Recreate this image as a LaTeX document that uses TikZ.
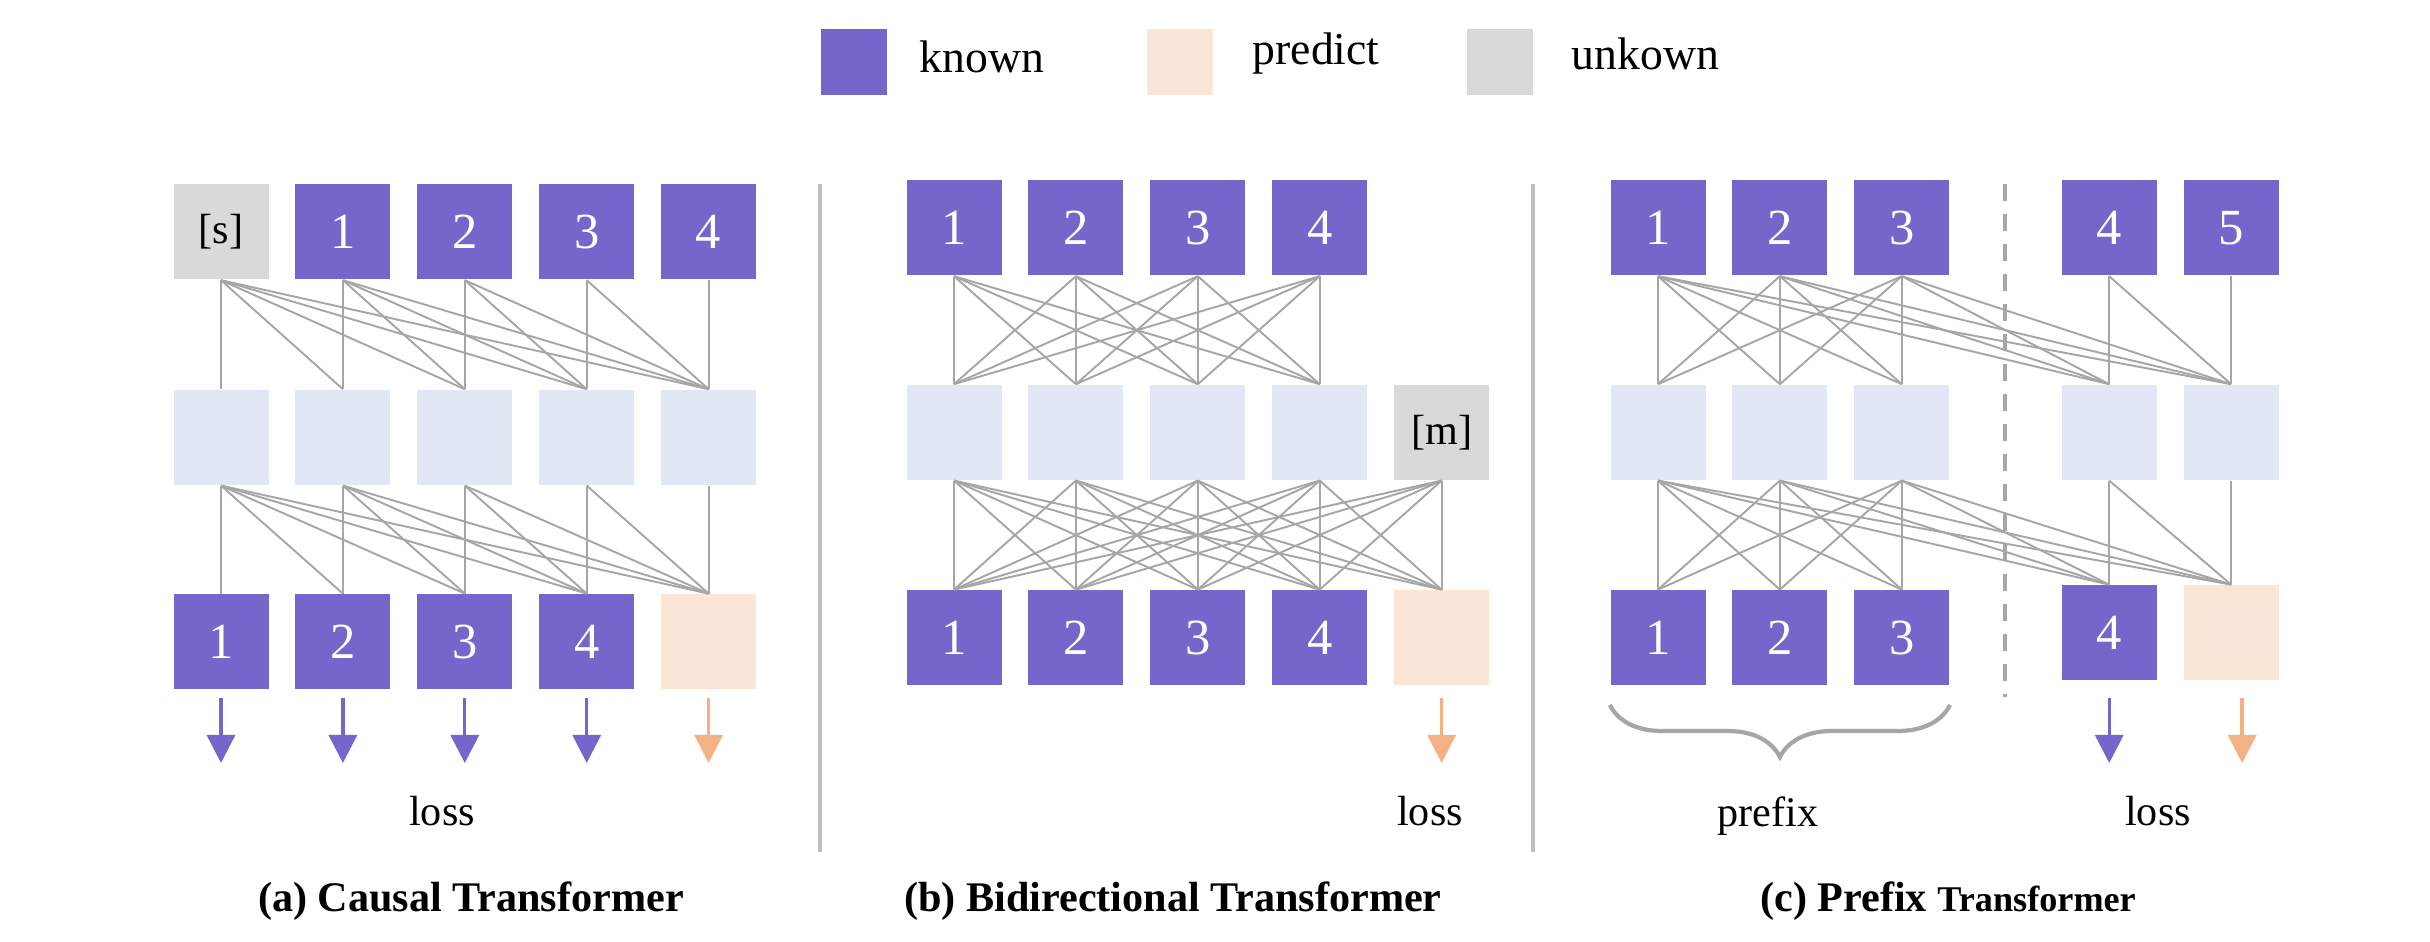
\documentclass[tikz,border=0pt]{standalone}
\usepackage{fontspec}
\setmainfont{Liberation Serif}
\usepackage{tikz}
\usetikzlibrary{positioning}
\usetikzlibrary{arrows.meta}
\usetikzlibrary{decorations.pathreplacing}

\definecolor{knownpurple}{RGB}{117,102,204}
\definecolor{predictpeach}{RGB}{251,229,214}
\definecolor{unknowngray}{RGB}{217,217,217}
\definecolor{hiddenblue}{RGB}{226,231,245}
\definecolor{edgegray}{RGB}{166,166,166}
\definecolor{rulegray}{RGB}{191,191,191}
\definecolor{lossorange}{RGB}{244,177,131}

\begin{document}
\begin{tikzpicture}[token/.style={rectangle,inner sep=0pt,minimum width=0.95cm,minimum height=0.95cm,font=\fontsize{14.4}{16}\selectfont},known/.style={token,fill=knownpurple,text=white},predict/.style={token,fill=predictpeach},unknown/.style={token,fill=unknowngray,font=\fontsize{12}{14}\selectfont},hidden/.style={token,fill=hiddenblue},keybox/.style={rectangle,inner sep=0pt,minimum size=0.66cm},keytext/.style={anchor=base west,inner sep=0pt,font=\fontsize{13}{15}\selectfont},note/.style={anchor=base,inner sep=0pt,font=\fontsize{12}{14}\selectfont},caption/.style={anchor=base,inner sep=0pt,font=\fontsize{12}{14}\selectfont\bfseries},attn/.style={draw=edgegray,line width=0.55pt},lossarrow/.style={draw=#1,line width=0.95pt,-{Triangle[width=0.28cm,length=0.28cm]}},separator/.style={draw=rulegray,line width=1.15pt},prefixrule/.style={draw=edgegray,line width=1.3pt,dash pattern=on 0.175cm off 0.125cm},prefixbrace/.style={draw=edgegray,line width=1.2pt,decorate,decoration={brace,mirror,amplitude=0.52cm}},node distance=0.255cm]
  \useasboundingbox (0,0) rectangle (24.30,-9.42);
  \coordinate (arrowtop) at (0,-6.98);
  \coordinate (arrowtip) at (0,-7.63);
  \coordinate (bracetop) at (0,-7.05);

  %legend
  \node[keybox,fill=knownpurple] (key-known) at (8.54,-0.62) {};
  \node[keytext] (key-known-label) at (9.19,-0.73) {known};
  \node[keybox,fill=predictpeach] (key-predict) at (11.80,-0.62) {};
  \node[keytext] (key-predict-label) at (12.52,-0.65) {predict};
  \node[keybox,fill=unknowngray] (key-unknown) at (15.00,-0.62) {};
  \node[keytext] (key-unknown-label) at (15.71,-0.70) {unkown};

  %separators
  \draw[separator] (8.20,-1.84) -- (8.20,-8.52);
  \draw[separator] (15.33,-1.84) -- (15.33,-8.52);

  %(a) causal
  \node[unknown] (a-t0) at (2.21,-2.32) {[s]};
  \node[known,right=of a-t0] (a-t1) {1};
  \node[known,right=of a-t1] (a-t2) {2};
  \node[known,right=of a-t2] (a-t3) {3};
  \node[known,right=of a-t3] (a-t4) {4};
  \node[hidden,below=1.09cm of a-t0] (a-m0) {};
  \node[hidden,right=of a-m0] (a-m1) {};
  \node[hidden,right=of a-m1] (a-m2) {};
  \node[hidden,right=of a-m2] (a-m3) {};
  \node[hidden,right=of a-m3] (a-m4) {};
  \node[known,below=1.08cm of a-m0] (a-b0) {1};
  \node[known,right=of a-b0] (a-b1) {2};
  \node[known,right=of a-b1] (a-b2) {3};
  \node[known,right=of a-b2] (a-b3) {4};
  \node[predict,right=of a-b3] (a-b4) {};
  \foreach \i in {0,...,4}
    \foreach \j in {\i,...,4}{
      \draw[attn] (a-t\i.south) -- (a-m\j.north);
      \draw[attn] (a-m\i.south) -- (a-b\j.north);
    }
  \foreach \k in {0,...,3}
    \draw[lossarrow=knownpurple] (a-b\k |- arrowtop) -- (a-b\k |- arrowtip);
  \draw[lossarrow=lossorange] (a-b4 |- arrowtop) -- (a-b4 |- arrowtip);
  \node[note] (a-loss) at (4.42,-8.26) {loss};
  \node[caption] (a-caption) at (4.71,-9.12) {(a) Causal Transformer};

  %(b) bidirectional
  \node[known] (b-t0) at (9.54,-2.28) {1};
  \node[known,right=of b-t0] (b-t1) {2};
  \node[known,right=of b-t1] (b-t2) {3};
  \node[known,right=of b-t2] (b-t3) {4};
  \node[hidden,below=1.08cm of b-t0] (b-m0) {};
  \node[hidden,right=of b-m0] (b-m1) {};
  \node[hidden,right=of b-m1] (b-m2) {};
  \node[hidden,right=of b-m2] (b-m3) {};
  \node[unknown,right=of b-m3] (b-m4) {[m]};
  \node[known,below=1.09cm of b-m0] (b-b0) {1};
  \node[known,right=of b-b0] (b-b1) {2};
  \node[known,right=of b-b1] (b-b2) {3};
  \node[known,right=of b-b2] (b-b3) {4};
  \node[predict,right=of b-b3] (b-b4) {};
  \foreach \i in {0,...,3}
    \foreach \j in {0,...,3}
      \draw[attn] (b-t\i.south) -- (b-m\j.north);
  \foreach \i in {0,...,4}
    \foreach \j in {0,...,4}
      \draw[attn] (b-m\i.south) -- (b-b\j.north);
  \draw[lossarrow=lossorange] (b-b4 |- arrowtop) -- (b-b4 |- arrowtip);
  \node[note] (b-loss) at (14.30,-8.26) {loss};
  \node[caption] (b-caption) at (11.73,-9.12) {(b) Bidirectional Transformer};

  %(c) prefix
  \node[known] (c-t0) at (16.58,-2.28) {1};
  \node[known,right=of c-t0] (c-t1) {2};
  \node[known,right=of c-t1] (c-t2) {3};
  \node[known,right=1.11cm of c-t2] (c-t3) {4};
  \node[known,right=of c-t3] (c-t4) {5};
  \node[hidden,below=1.08cm of c-t0] (c-m0) {};
  \node[hidden,right=of c-m0] (c-m1) {};
  \node[hidden,right=of c-m1] (c-m2) {};
  \node[hidden,right=1.11cm of c-m2] (c-m3) {};
  \node[hidden,right=of c-m3] (c-m4) {};
  \node[known,below=1.09cm of c-m0] (c-b0) {1};
  \node[known,right=of c-b0] (c-b1) {2};
  \node[known,right=of c-b1] (c-b2) {3};
  \node[known,right=1.11cm of c-b2,yshift=0.05cm] (c-b3) {4};
  \node[predict,right=of c-b3] (c-b4) {};
  \draw[prefixrule] (20.05,-1.84) -- (20.05,-6.97);
  \foreach \i in {0,1,2}
    \foreach \j in {0,...,4}{
      \draw[attn] (c-t\i.south) -- (c-m\j.north);
      \draw[attn] (c-m\i.south) -- (c-b\j.north);
    }
  \foreach \i in {3,4}
    \foreach \j in {\i,...,4}{
      \draw[attn] (c-t\i.south) -- (c-m\j.north);
      \draw[attn] (c-m\i.south) -- (c-b\j.north);
    }
  \draw[prefixbrace] (c-b0.south west |- bracetop) -- (c-b2.south east |- bracetop);
  \draw[lossarrow=knownpurple] (c-b3 |- arrowtop) -- (c-b3 |- arrowtip);
  \draw[lossarrow=lossorange] ([xshift=0.11cm]c-b4 |- arrowtop) -- ([xshift=0.11cm]c-b4 |- arrowtip);
  \node[note] (c-prefix) at (17.68,-8.27) {prefix};
  \node[note] (c-loss) at (21.58,-8.26) {loss};
  \node[caption] (c-caption) at (19.48,-9.12) {(c) Prefix {\fontsize{10.3}{12}\selectfont Transformer}};
\end{tikzpicture}
\end{document}
